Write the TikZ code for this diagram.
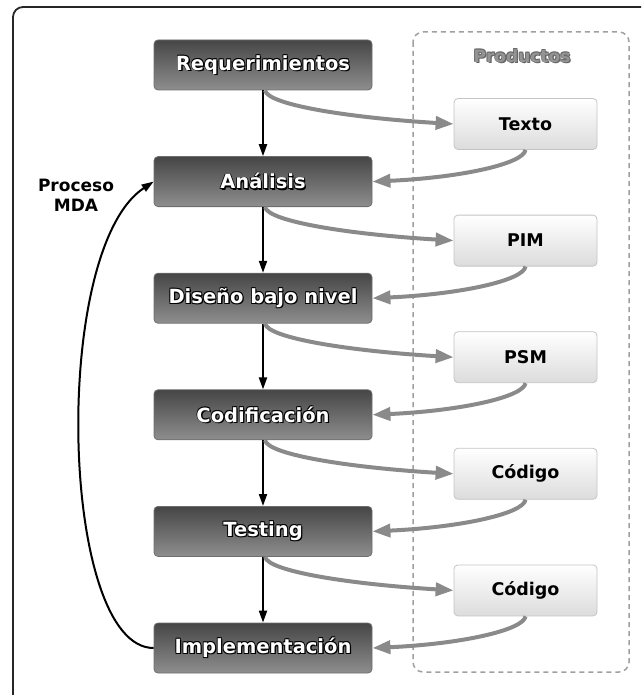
\documentclass[tikz,border=0pt]{standalone}
\usepackage{fontspec}
\setmainfont{DejaVu Sans}
\usetikzlibrary{arrows.meta}

\definecolor{feedgray}{HTML}{8A8A8A}
\definecolor{stepTop}{HTML}{464646}
\definecolor{stepBot}{HTML}{8E8E8E}
\definecolor{stepEdge}{HTML}{6E6E6E}
\definecolor{prodBot}{HTML}{DCDCDC}
\definecolor{prodEdge}{HTML}{C4C4C4}
\definecolor{groupEdge}{HTML}{A0A0A0}

% text with a thin dark halo and a drop shadow underneath
\newcommand\halotext[3]{%
  \leavevmode
  \rlap{\hspace{1.3pt}\raisebox{-1.3pt}{\color{#1}#3}}%
  \rlap{\hspace{0.7pt}\raisebox{0.7pt}{\color{#1}#3}}%
  \rlap{\hspace{-0.7pt}\raisebox{0.7pt}{\color{#1}#3}}%
  \rlap{\hspace{-0.7pt}\raisebox{-0.7pt}{\color{#1}#3}}%
  {\color{#2}#3}}

\begin{document}
\begin{tikzpicture}[x=1pt,y=-1pt,
  stepbox/.style={rounded corners=4pt, minimum width=218pt, minimum height=50pt,
    inner sep=0pt, top color=stepTop, bottom color=stepBot, draw=stepEdge,
    line width=0.8pt, font=\fontsize{19.5}{22}\selectfont\bfseries},
  prodbox/.style={rounded corners=4pt, minimum width=143pt, minimum height=51pt,
    inner sep=0pt, top color=white, bottom color=prodBot, draw=prodEdge,
    line width=0.8pt, font=\fontsize{17.5}{20}\selectfont\bfseries},
  flow/.style={-{Triangle[length=12pt,width=8pt]}, line width=2pt, black},
  feed/.style={-{Triangle[length=18pt,width=13pt]}, line width=4pt, feedgray},
  groupbox/.style={draw=groupEdge, line width=1.5pt, dash pattern=on 5pt off 4pt,
    rounded corners=10pt},
  frame/.style={draw=black!85, line width=1.8pt, rounded corners=10pt}
]
\useasboundingbox (0,0) rectangle (641,695);

% outer frame, running past the right and bottom edges
\begin{scope}
  \clip (0,0) rectangle (641,695);
  \draw[frame] (13,7) rectangle (720,760);
\end{scope}

% products group
\draw[groupbox] (413,32) rectangle (629,672);
\node[font=\fontsize{17}{20}\selectfont\bfseries] (prodtitle) at (522,56)
  {\halotext{black!60}{black!42}{Productos}};

% process steps
\node[stepbox] (s1) at (263,65)    {\halotext{black}{white}{Requerimientos}};
\node[stepbox] (s2) at (263,181.6) {\halotext{black}{white}{Análisis}};
\node[stepbox] (s3) at (263,298.2) {\halotext{black}{white}{Diseño bajo nivel}};
\node[stepbox] (s4) at (263,414.8) {\halotext{black}{white}{Codificación}};
\node[stepbox] (s5) at (263,531.4) {\halotext{black}{white}{Testing}};
\node[stepbox] (s6) at (263,648)   {\halotext{black}{white}{Implementación}};

% products
\node[prodbox] (p1) at (525.5,124)   {Texto};
\node[prodbox] (p2) at (525.5,240.6) {PIM};
\node[prodbox] (p3) at (525.5,357.2) {PSM};
\node[prodbox] (p4) at (525.5,473.8) {Código};
\node[prodbox] (p5) at (525.5,590.4) {Código};

% step sequence
\foreach \a/\b in {s1/s2, s2/s3, s3/s4, s4/s5, s5/s6}
  \draw[flow] (\a) -- (\b);

% each step emits a product that feeds the next step
\foreach \i [evaluate=\i as \j using int(\i+1)] in {1,...,5} {
  \draw[feed] ([xshift=2pt]s\i.south) .. controls +(3,15) and +(-100,-6) .. (p\i.west);
  \draw[feed] (p\i.south) .. controls +(-2,14) and +(88,-4) .. (s\j.east);
}

% iteration loop of the MDA process
\draw[flow] (s6.west) .. controls (60,648) and (50,250) .. (s2.west);
\node[font=\fontsize{17}{20}\selectfont\bfseries, align=center] (mda) at (76,195)
  {Proceso\\MDA};
\end{tikzpicture}
\end{document}
